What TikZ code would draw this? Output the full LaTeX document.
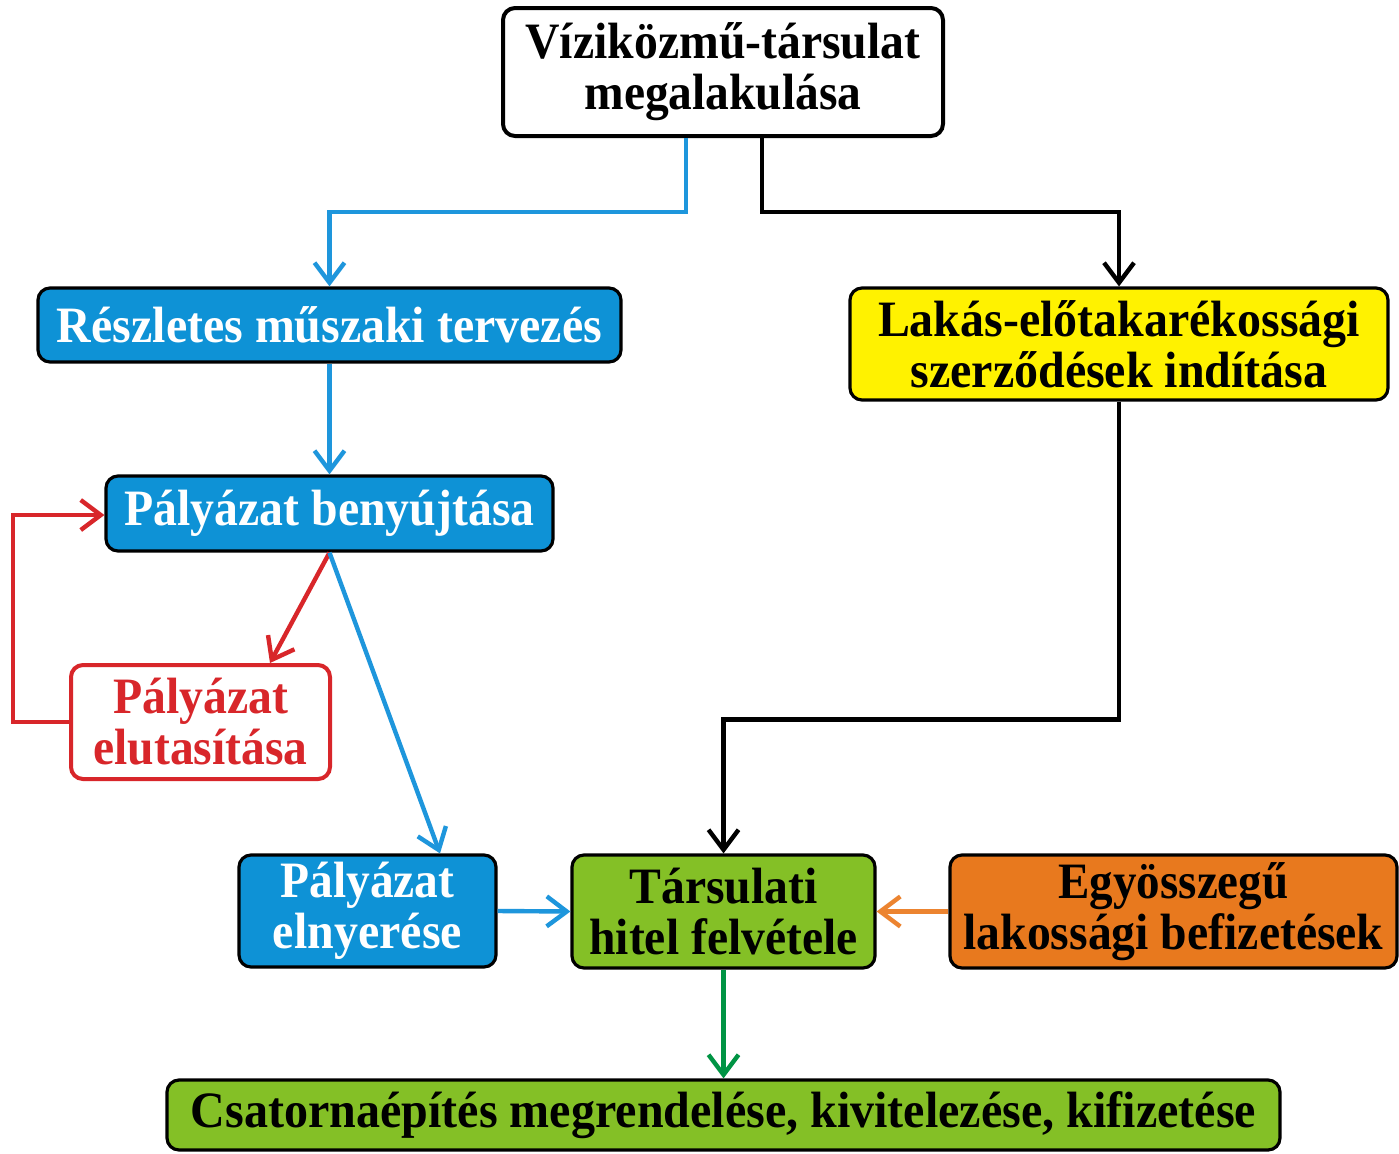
\documentclass[tikz,border=0pt]{standalone}
\usepackage{fontspec}
\setmainfont{Liberation Serif}
\usetikzlibrary{arrows.meta}
\definecolor{cblue}{RGB}{14,146,214}
\definecolor{cbluel}{RGB}{30,150,220}
\definecolor{cyellow}{RGB}{255,242,0}
\definecolor{cgreen}{RGB}{132,192,38}
\definecolor{cgreenl}{RGB}{0,148,68}
\definecolor{corange}{RGB}{232,121,30}
\definecolor{corangel}{RGB}{236,132,48}
\definecolor{cred}{RGB}{216,38,42}
\newsavebox\fitbox
\newlength\fitlen
\newcommand\fitw[2]{\sbox\fitbox{#2}\setlength\fitlen{\wd\fitbox}\pgfmathsetmacro\fitratio{#1/\fitlen}\scalebox{\fitratio}[1]{\usebox\fitbox}}
\tikzset{
  box/.style={draw=black, line width=1.6pt, rounded corners=6pt, inner sep=0pt, align=center,
    font=\fontsize{25.5}{25.5}\selectfont\bfseries},
  conn/.style={line width=2.2pt, -{Straight Barb[length=10pt,width=15pt]}},
}
\begin{document}
\begin{tikzpicture}[x=0.5pt, y=-0.5pt]
\useasboundingbox[fill=white] (0,0) rectangle (1399,1153);
\node[box, fill=white, line width=2pt, minimum width=220pt, minimum height=64pt] (top) at (723,72)
  {\fitw{197.5pt}{Víziközmű-társulat}\\\fitw{138.5pt}{megalakulása}};
\node[box, fill=cblue, text=white, minimum width=291.5pt, minimum height=37pt] (resz) at (329.5,325)
  {\fitw{272.5pt}{Részletes műszaki tervezés}};
\node[box, fill=cyellow, minimum width=269pt, minimum height=56pt] (lakas) at (1119,344)
  {\fitw{241pt}{Lakás-előtakarékossági}\\\fitw{208.5pt}{szerződések indítása}};
\node[box, fill=cblue, text=white, minimum width=223.5pt, minimum height=37.5pt] (benyu) at (329.5,513.5)
  {\fitw{205pt}{Pályázat benyújtása}};
\node[box, draw=cred, line width=2pt, fill=white, text=cred, minimum width=129.5pt, minimum height=57pt] (eluta) at (200.5,722)
  {\fitw{87.5pt}{Pályázat}\\\fitw{107pt}{elutasítása}};
\node[box, fill=cblue, text=white, minimum width=128.5pt, minimum height=56pt] (elnyer) at (367.5,911)
  {\fitw{87pt}{Pályázat}\\\fitw{94.5pt}{elnyerése}};
\node[box, fill=cgreen, minimum width=151.5pt, minimum height=56.5pt] (tars) at (723.5,911.5)
  {\fitw{94pt}{Társulati}\\\fitw{134pt}{hitel felvétele}};
\node[box, fill=corange, minimum width=223.5pt, minimum height=56.5pt] (egy) at (1173.5,911.5)
  {\fitw{115pt}{Egyösszegű}\\\fitw{210pt}{lakossági befizetések}};
\node[box, fill=cgreen, minimum width=556.5pt, minimum height=35pt] (csat) at (723.5,1115)
  {\raisebox{-1.5pt}{\fitw{532.5pt}{Csatornaépítés megrendelése, kivitelezése, kifizetése}}};
% connectors
\draw[conn, cbluel] ([xshift=-18.5pt]top.south) -- ++(0,74) -| (resz.north);
\draw[conn, black] ([xshift=19.5pt]top.south) -- ++(0,74) -| (lakas.north);
\draw[conn, cbluel] (resz.south) -- (benyu.north);
\draw[conn, cred] (benyu.south) -- ([xshift=34.75pt]eluta.north);
\draw[conn, cred] (eluta.west) -- ++(-56,0) |- ([yshift=-0.75pt]benyu.west);
\draw[conn, cbluel] (benyu.south) -- ([xshift=36.25pt]elnyer.north);
\draw[conn, cbluel] (elnyer.east) -- (tars.west);
\draw[conn, black] (lakas.south) -- ++(0,318) -| (tars.north);
\draw[conn, corangel] (egy.west) -- (tars.east);
\draw[conn, cgreenl] (tars.south) -- (csat.north);
\end{tikzpicture}
\end{document}
